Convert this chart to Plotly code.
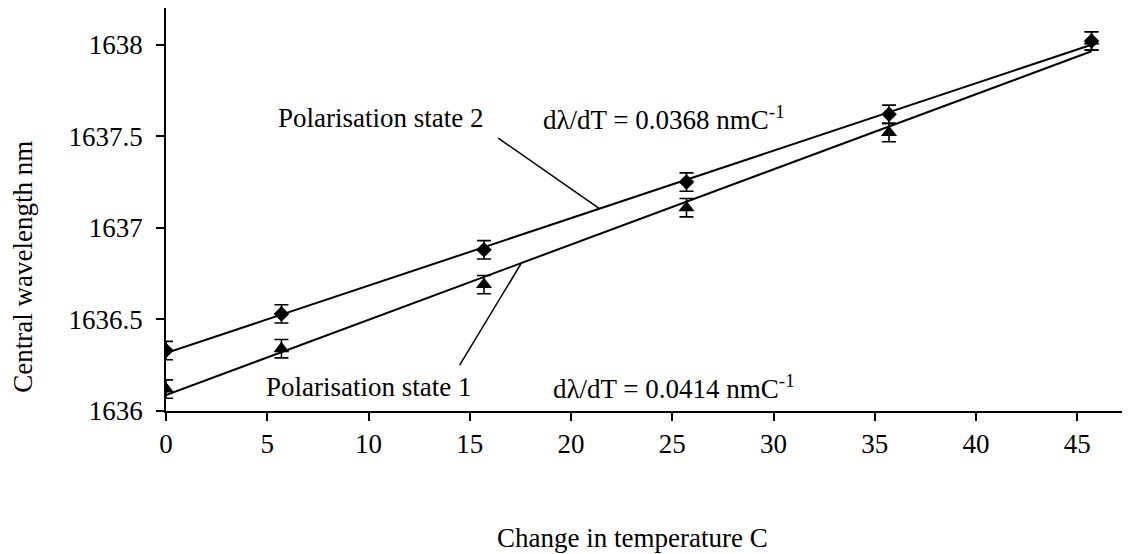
import numpy as np
import plotly.graph_objects as go

# ---- data ----
temp_change = [0, 5.7, 15.7, 25.7, 35.7, 45.7]
state1_wl = [1636.12, 1636.34, 1636.69, 1637.11, 1637.52, 1638.02]
state2_wl = [1636.33, 1636.53, 1636.88, 1637.25, 1637.62, 1638.02]
err1 = [0.05] * 6
err2 = [0.05] * 6
x_ticks = [0, 5, 10, 15, 20, 25, 30, 35, 40, 45]
y_ticks = [1636, 1636.5, 1637, 1637.5, 1638]
y_tick_text = ["1636", "1636.5", "1637", "1637.5", "1638"]

FONT = "Liberation Serif, Times New Roman, serif"
FS = 27

x = np.array(temp_change)
p1 = np.polyfit(x, np.array(state1_wl), 1)
p2 = np.polyfit(x, np.array(state2_wl), 1)
xf = np.array([x.min(), x.max()])

fig = go.Figure()

# trendlines
fig.add_trace(go.Scatter(x=xf, y=np.polyval(p2, xf), mode="lines",
                         line=dict(color="black", width=2), hoverinfo="skip", showlegend=False))
fig.add_trace(go.Scatter(x=xf, y=np.polyval(p1, xf), mode="lines",
                         line=dict(color="black", width=2), hoverinfo="skip", showlegend=False))

# data points with error bars
fig.add_trace(go.Scatter(x=temp_change, y=state2_wl, mode="markers", name="Polarisation state 2",
                         marker=dict(symbol="diamond", size=12, color="black"),
                         error_y=dict(type="data", array=err2, visible=True, color="black",
                                      thickness=1.6, width=7),
                         showlegend=False))
fig.add_trace(go.Scatter(x=temp_change, y=state1_wl, mode="markers", name="Polarisation state 1",
                         marker=dict(symbol="triangle-up", size=14, color="black"),
                         error_y=dict(type="data", array=err1, visible=True, color="black",
                                      thickness=1.6, width=7),
                         showlegend=False))

# leader lines (end on fitted lines)
x_end2 = 21.4
x_end1 = 17.55
fig.add_shape(type="line", xref="x", yref="y",
              x0=16.4, y0=1637.49, x1=x_end2, y1=float(np.polyval(p2, x_end2)),
              line=dict(color="black", width=1.5))
fig.add_shape(type="line", xref="x", yref="y",
              x0=14.5, y0=1636.25, x1=x_end1, y1=float(np.polyval(p1, x_end1)),
              line=dict(color="black", width=1.5))

ann_font = dict(family=FONT, size=FS, color="black")
fig.add_annotation(x=10.6, y=1637.60, xref="x", yref="y", text="Polarisation state 2",
                   showarrow=False, font=ann_font, xanchor="center", yanchor="middle")
fig.add_annotation(x=24.6, y=1637.60, xref="x", yref="y", text="dλ/dT = 0.0368 nmC<sup>-1</sup>",
                   showarrow=False, font=ann_font, xanchor="center", yanchor="middle")
fig.add_annotation(x=10.0, y=1636.13, xref="x", yref="y", text="Polarisation state 1",
                   showarrow=False, font=ann_font, xanchor="center", yanchor="middle")
fig.add_annotation(x=25.1, y=1636.13, xref="x", yref="y", text="dλ/dT = 0.0414 nmC<sup>-1</sup>",
                   showarrow=False, font=ann_font, xanchor="center", yanchor="middle")

# axis titles as annotations for exact placement
fig.add_annotation(x=-0.148, y=0.357, xref="paper", yref="paper", text="Central wavelength nm",
                   textangle=-90, showarrow=False, font=ann_font, xanchor="center", yanchor="middle")
fig.add_annotation(x=0.485, y=-0.316, xref="paper", yref="paper", text="Change in temperature C",
                   showarrow=False, font=ann_font, xanchor="center", yanchor="middle")

# margins compensate for the page's default 8px body margin
fig.update_layout(
    width=1130, height=554,
    margin=dict(l=158, r=10, t=0, b=151, pad=0),
    paper_bgcolor="white", plot_bgcolor="white",
    font=dict(family=FONT, size=FS, color="black"),
    showlegend=False,
)
fig.update_xaxes(range=[0, 47.5], tickvals=x_ticks, ticks="outside", ticklen=8, tickwidth=1.5,
                 tickcolor="black", showline=True, linecolor="black", linewidth=1.5,
                 showgrid=False, zeroline=False, automargin=False,
                 tickfont=dict(family=FONT, size=FS, color="black"))
fig.update_yaxes(range=[1636, 1638.2], tickvals=y_ticks, ticktext=y_tick_text, ticks="outside",
                 ticklen=8, tickwidth=1.5, tickcolor="black", showline=True, linecolor="black",
                 linewidth=1.5, showgrid=False, zeroline=False, ticklabelstandoff=8, automargin=False,
                 tickfont=dict(family=FONT, size=FS, color="black"))

fig.write_html("out.html")
